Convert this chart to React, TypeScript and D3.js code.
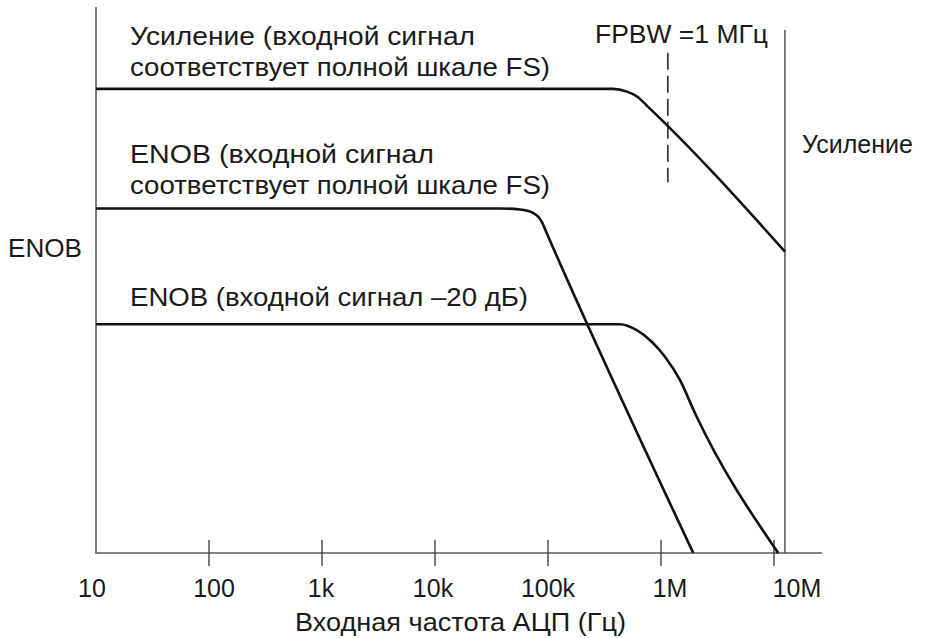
import React from "react";
import * as d3 from "d3";

// ---- data (frequency in Hz, level in relative units 0..100) ----
const tickValues = [10, 100, 1e3, 1e4, 1e5, 1e6, 1e7];
const tickLabels = ["10", "100", "1k", "10k", "100k", "1M", "10M"];

const gainFreq = [10, 376e3, 500e3, 614e3, 752e3, 12.5e6];
const gainLevel = [85.0, 85.0, 84.5, 83.6, 81.9, 55.2];

const enobFsFreq = [10, 37.6e3, 56.5e3, 73.6e3, 87.9e3, 97.3e3, 1.93e6];
const enobFsLevel = [63.1, 63.1, 62.9, 62.3, 60.7, 58.6, 0];

const enob20Freq = [10, 308e3, 434e3, 610e3, 828e3, 1.08e6, 1.47e6, 2.0e6, 10.9e6];
const enob20Level = [41.9, 41.9, 41.9, 40.8, 38.7, 36.0, 31.7, 25.6, 0];

const fpbwFreq = 1.15e6;
const fpbwLevels = [67.9, 91.6];
const rightAxisFreq = 12.5e6;
const rightAxisTop = 95.8;
const axisEndFreq = 2.66e7;

// ---- layout ----
const W = 928;
const H = 638;
const FONT = "'Liberation Sans', Arial, Helvetica, sans-serif";
const FS = 25;
const labelNudge = [-4, 5, -1, -2, 0, 9, 23];

type Note = { text: string; x: number; y: number; w: number };
const notes: Note[] = [
  { text: "Усиление (входной сигнал", x: 130, y: 45, w: 345 },
  { text: "соответствует полной шкале FS)", x: 130, y: 76, w: 420 },
  { text: "ENOB (входной сигнал", x: 130, y: 163, w: 304 },
  { text: "соответствует полной шкале FS)", x: 130, y: 194, w: 420 },
  { text: "ENOB (входной сигнал –20 дБ)", x: 130, y: 306, w: 398 },
  { text: "ENOB", x: 8, y: 257, w: 74 },
  { text: "FPBW =1 МГц", x: 595, y: 43, w: 173 },
  { text: "Усиление", x: 802, y: 153, w: 111 },
];

export default function App() {
  const x = d3.scaleLog().domain([10, 1e7]).range([96, 774]);
  const y = d3.scaleLinear().domain([0, 100]).range([553, 7]);

  const line = d3
    .line<[number, number]>()
    .x((d) => x(d[0]))
    .y((d) => y(d[1]))
    .curve(d3.curveMonotoneX);

  const zip = (a: number[], b: number[]) => a.map((v, i) => [v, b[i]] as [number, number]);

  const series = [
    zip(gainFreq, gainLevel),
    zip(enobFsFreq, enobFsLevel),
    zip(enob20Freq, enob20Level),
  ];

  const axisColor = "#5a5a5a";
  const y0 = y(0);

  return (
    <svg
      width={W}
      height={H}
      viewBox={`0 0 ${W} ${H}`}
      style={{ position: "absolute", left: 0, top: 0, background: "#fff" }}
      fontFamily={FONT}
      fontSize={FS}
    >
      <rect width={W} height={H} fill="#fff" />
      {/* axes */}
      <line x1={x(10)} x2={x(10)} y1={y(100)} y2={y0} stroke={axisColor} strokeWidth={1.6} />
      <line x1={x(10) - 0.8} x2={x(axisEndFreq)} y1={y0} y2={y0} stroke={axisColor} strokeWidth={1.6} />
      <line
        x1={x(rightAxisFreq)}
        x2={x(rightAxisFreq)}
        y1={y(rightAxisTop)}
        y2={y0}
        stroke={axisColor}
        strokeWidth={1.6}
      />
      {tickValues.slice(1).map((t) => (
        <line key={t} x1={x(t)} x2={x(t)} y1={y0 - 13} y2={y0 + 13} stroke="#333" strokeWidth={1.3} />
      ))}
      {tickValues.map((t, i) => (
        <text key={"l" + t} x={x(t) + labelNudge[i]} y={597} textAnchor="middle" fill="#1a1a1a">
          {tickLabels[i]}
        </text>
      ))}
      <text
        x={295}
        y={631}
        fill="#1a1a1a"
        textLength={331}
        lengthAdjust="spacingAndGlyphs"
      >
        Входная частота АЦП (Гц)
      </text>

      {/* FPBW dashed marker */}
      <line
        x1={x(fpbwFreq)}
        x2={x(fpbwFreq)}
        y1={y(fpbwLevels[1])}
        y2={y(fpbwLevels[0])}
        stroke="#1a1a1a"
        strokeWidth={1.5}
        strokeDasharray="17 6"
      />

      {/* curves */}
      {series.map((s, i) => (
        <path key={i} d={line(s) || ""} fill="none" stroke="#111" strokeWidth={2.6} strokeLinejoin="round" />
      ))}

      {/* annotations */}
      <g fill="#1a1a1a">
        {notes.map((n, i) => (
          <text key={i} x={n.x} y={n.y} textLength={n.w} lengthAdjust="spacingAndGlyphs">
            {n.text}
          </text>
        ))}
      </g>
    </svg>
  );
}
